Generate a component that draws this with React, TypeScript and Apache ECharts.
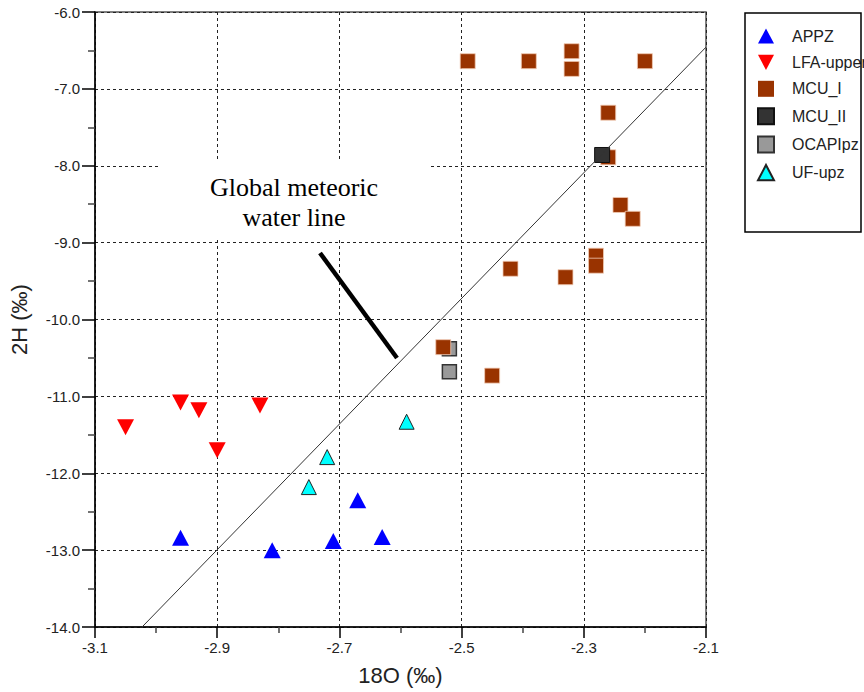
import { useEffect, useRef } from 'react';
import * as echarts from 'echarts';

// δ18O / δ2H pairs per hydrostratigraphic unit
const appz = [
  [-2.96, -12.84],
  [-2.81, -13.0],
  [-2.71, -12.88],
  [-2.67, -12.35],
  [-2.63, -12.83],
];
const lfaUpper = [
  [-3.05, -11.4],
  [-2.96, -11.08],
  [-2.93, -11.18],
  [-2.9, -11.7],
  [-2.83, -11.12],
];
const mcuI = [
  [-2.49, -6.64],
  [-2.39, -6.64],
  [-2.32, -6.51],
  [-2.32, -6.74],
  [-2.2, -6.64],
  [-2.26, -7.31],
  [-2.26, -7.89],
  [-2.24, -8.51],
  [-2.22, -8.69],
  [-2.28, -9.17],
  [-2.28, -9.3],
  [-2.42, -9.34],
  [-2.33, -9.45],
  [-2.53, -10.36],
  [-2.45, -10.73],
];
const mcuII = [[-2.27, -7.86]];
const ocapIpz = [
  [-2.52, -10.38],
  [-2.52, -10.68],
];
const ufUpz = [
  [-2.59, -11.33],
  [-2.72, -11.79],
  [-2.75, -12.18],
];
// global meteoric water line, end points inside the plotted range
const gmwl = [
  [-3.023, -14.0],
  [-2.1, -6.457],
];
const legendNames = ['APPZ', 'LFA-upper', 'MCU_I', 'MCU_II', 'OCAPIpz', 'UF-upz'];

const SANS = '"Liberation Sans", Arial, Helvetica, sans-serif';
const SERIF = '"Liberation Serif", "Times New Roman", serif';
const TRI_UP = 'path://M10,0L20,19L0,19Z';
const TRI_DOWN = 'path://M0,0L20,0L10,19Z';
const SQUARE = 'path://M0,0L10,0L10,10L0,10Z';

export default function App() {
  const ref = useRef<HTMLDivElement>(null);

  useEffect(() => {
    if (!ref.current) return;
    const chart = echarts.init(ref.current, null, { renderer: 'svg' });
    const fmt = (v: number) => v.toFixed(1);

    chart.setOption({
      animation: false,
      backgroundColor: '#fff',
      textStyle: { fontFamily: SANS },
      grid: {
        left: 94,
        right: 158,
        top: 12,
        bottom: 65,
        show: true,
        borderColor: '#555',
        borderWidth: 1.5,
        backgroundColor: 'transparent',
      },
      xAxis: {
        type: 'value',
        min: -3.1,
        max: -2.1,
        interval: 0.2,
        name: '18O (‰)',
        nameLocation: 'middle',
        nameGap: 37,
        nameTextStyle: { fontSize: 22, color: '#222', fontFamily: SANS },
        axisLine: { show: true, onZero: false, lineStyle: { color: '#000', width: 1.5 } },
        axisTick: { show: true, length: 11, lineStyle: { color: '#000', width: 1.5 } },
        minorTick: { show: true, splitNumber: 2, length: 6, lineStyle: { color: '#444', width: 1.5 } },
        axisLabel: { margin: 13, fontSize: 15, color: '#222', fontFamily: SANS, formatter: fmt },
        splitLine: { show: true, lineStyle: { color: '#222', type: [3, 3], width: 1 } },
      },
      yAxis: {
        type: 'value',
        min: -14,
        max: -6,
        interval: 1,
        name: '2H (‰)',
        nameLocation: 'middle',
        nameGap: 65,
        nameTextStyle: { fontSize: 22, color: '#222', fontFamily: SANS },
        axisLine: { show: true, onZero: false, lineStyle: { color: '#000', width: 1.5 } },
        axisTick: { show: true, length: 13, lineStyle: { color: '#000', width: 1.5 } },
        minorTick: { show: true, splitNumber: 2, length: 7, lineStyle: { color: '#444', width: 1.5 } },
        axisLabel: { margin: 15, fontSize: 15, color: '#222', fontFamily: SANS, formatter: fmt },
        splitLine: { show: true, lineStyle: { color: '#222', type: [3, 3], width: 1 } },
      },
      legend: {
        data: legendNames.map((name) =>
          name === 'MCU_I' ? { name, itemStyle: { borderWidth: 0 } } : name
        ),
        orient: 'vertical',
        left: 757,
        top: 28,
        padding: 0,
        itemWidth: 16,
        itemHeight: 16,
        itemGap: 10.4,
        textStyle: {
          fontSize: 16,
          color: '#222',
          fontFamily: SANS,
          padding: [0, 0, 0, 13],
        },
      },
      series: [
        {
          name: 'APPZ',
          type: 'scatter',
          data: appz,
          symbol: TRI_UP,
          symbolSize: [17, 16],
          itemStyle: { color: '#0000ff', opacity: 1 },
          z: 3,
        },
        {
          name: 'LFA-upper',
          type: 'scatter',
          data: lfaUpper,
          symbol: TRI_DOWN,
          symbolSize: [17, 16],
          itemStyle: { color: '#ff0000', opacity: 1 },
          z: 3,
        },
        {
          name: 'MCU_I',
          type: 'scatter',
          data: mcuI,
          symbol: SQUARE,
          symbolSize: 15,
          itemStyle: { color: '#993300', borderColor: '#f3cdb6', borderWidth: 0.8, opacity: 1 },
          z: 3,
        },
        {
          name: 'MCU_II',
          type: 'scatter',
          data: mcuII,
          symbol: SQUARE,
          symbolSize: 15,
          itemStyle: { color: '#333333', borderColor: '#111', borderWidth: 1, opacity: 1 },
          z: 4,
        },
        {
          name: 'OCAPIpz',
          type: 'scatter',
          data: ocapIpz,
          symbol: SQUARE,
          symbolSize: 14,
          itemStyle: { color: '#999999', borderColor: '#333', borderWidth: 1.5, opacity: 1 },
          z: 2,
        },
        {
          name: 'UF-upz',
          type: 'scatter',
          data: ufUpz,
          symbol: TRI_UP,
          symbolSize: [15, 15],
          itemStyle: { color: '#00ffff', borderColor: '#222', borderWidth: 1, opacity: 1 },
          z: 3,
        },
        {
          name: 'GMWL',
          type: 'line',
          data: gmwl,
          symbol: 'none',
          silent: true,
          lineStyle: { color: '#333', width: 1 },
          z: 5,
        },
      ],
      graphic: {
        elements: [
          // label backing that breaks the grid lines behind the annotation
          {
            type: 'rect',
            z: 1,
            silent: true,
            shape: { x: 160, y: 159, width: 270, height: 81 },
            style: { fill: '#fff' },
          },
          {
            type: 'text',
            z: 6,
            x: 294,
            y: 172,
            style: {
              text: 'Global meteoric\nwater line',
              font: `26px ${SERIF}`,
              fill: '#000',
              align: 'center',
              verticalAlign: 'top',
              lineHeight: 30,
            },
          },
          {
            type: 'line',
            z: 6,
            shape: { x1: 320, y1: 253, x2: 397, y2: 358 },
            style: { stroke: '#000', lineWidth: 4.5 },
          },
          // legend frame
          {
            type: 'rect',
            z: 10,
            silent: true,
            shape: { x: 745, y: 13, width: 116, height: 219 },
            style: { fill: 'none', stroke: '#000', lineWidth: 1.5 },
          },
        ],
      },
    });

    return () => chart.dispose();
  }, []);

  return (
    <div
      ref={ref}
      style={{ position: 'absolute', left: 0, top: 0, width: 864, height: 692 }}
    />
  );
}
